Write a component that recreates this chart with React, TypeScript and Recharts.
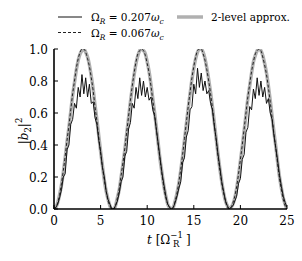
import React from 'react';
import { LineChart, Line, XAxis, YAxis } from 'recharts';

const FONT = "'DejaVu Serif', 'Liberation Serif', serif";

// time grid (units of 1/Ω_R)
const timeValues = [
  0, 0.2, 0.4, 0.6, 0.8, 1.0, 1.2, 1.4, 1.6, 1.8,
  2.0, 2.2, 2.4, 2.6, 2.8, 3.0, 3.2, 3.4, 3.6, 3.8,
  4.0, 4.2, 4.4, 4.6, 4.8, 5.0, 5.2, 5.4, 5.6, 5.8,
  6.0, 6.2, 6.4, 6.6, 6.8, 7.0, 7.2, 7.4, 7.6, 7.8,
  8.0, 8.2, 8.4, 8.6, 8.8, 9.0, 9.2, 9.4, 9.6, 9.8,
  10.0, 10.2, 10.4, 10.6, 10.8, 11.0, 11.2, 11.4, 11.6, 11.8,
  12.0, 12.2, 12.4, 12.6, 12.8, 13.0, 13.2, 13.4, 13.6, 13.8,
  14.0, 14.2, 14.4, 14.6, 14.8, 15.0, 15.2, 15.4, 15.6, 15.8,
  16.0, 16.2, 16.4, 16.6, 16.8, 17.0, 17.2, 17.4, 17.6, 17.8,
  18.0, 18.2, 18.4, 18.6, 18.8, 19.0, 19.2, 19.4, 19.6, 19.8,
  20.0, 20.2, 20.4, 20.6, 20.8, 21.0, 21.2, 21.4, 21.6, 21.8,
  22.0, 22.2, 22.4, 22.6, 22.8, 23.0, 23.2, 23.4, 23.6, 23.8,
  24.0, 24.2, 24.4, 24.6, 24.8, 25.0,
];

// Ω_R = 0.207 ω_c (solid, jagged)
const strongCoupling = [
  0, 0.01, 0.03, 0.07, 0.12, 0.20, 0.22, 0.37, 0.40, 0.53,
  0.56, 0.66, 0.63, 0.76, 0.70, 0.84, 0.72, 0.82, 0.70, 0.78,
  0.66, 0.67, 0.57, 0.53, 0.43, 0.36, 0.26, 0.20, 0.11, 0.06,
  0.03, 0.00, 0.00, 0.02, 0.05, 0.10, 0.17, 0.20, 0.33, 0.36,
  0.50, 0.54, 0.66, 0.63, 0.76, 0.69, 0.82, 0.71, 0.80, 0.70,
  0.76, 0.68, 0.70, 0.62, 0.58, 0.49, 0.40, 0.31, 0.22, 0.15,
  0.08, 0.03, 0.01, 0.00, 0.01, 0.04, 0.08, 0.13, 0.17, 0.29,
  0.32, 0.45, 0.49, 0.62, 0.64, 0.78, 0.72, 0.88, 0.76, 0.85,
  0.74, 0.80, 0.72, 0.74, 0.66, 0.62, 0.52, 0.44, 0.34, 0.26,
  0.17, 0.11, 0.05, 0.02, 0.00, 0.01, 0.02, 0.05, 0.08, 0.16,
  0.19, 0.31, 0.34, 0.48, 0.51, 0.64, 0.62, 0.75, 0.69, 0.82,
  0.71, 0.80, 0.70, 0.76, 0.66, 0.69, 0.60, 0.56, 0.46, 0.38,
  0.30, 0.21, 0.14, 0.08, 0.04, 0.01,
];

// Ω_R = 0.067 ω_c (dashed)
const weakCoupling = [
  0, 0.01, 0.04, 0.09, 0.16, 0.24, 0.33, 0.43, 0.52, 0.62,
  0.72, 0.80, 0.88, 0.94, 0.98, 1.00, 1.00, 0.98, 0.94, 0.89,
  0.82, 0.74, 0.64, 0.55, 0.45, 0.35, 0.26, 0.18, 0.11, 0.05,
  0.02, 0.00, 0.00, 0.02, 0.07, 0.13, 0.21, 0.29, 0.38, 0.48,
  0.58, 0.68, 0.77, 0.85, 0.92, 0.97, 0.99, 1.00, 0.99, 0.96,
  0.91, 0.85, 0.77, 0.68, 0.59, 0.49, 0.39, 0.30, 0.21, 0.13,
  0.07, 0.03, 0.01, 0.00, 0.01, 0.05, 0.10, 0.17, 0.25, 0.34,
  0.44, 0.54, 0.64, 0.73, 0.82, 0.89, 0.95, 0.99, 1.00, 1.00,
  0.97, 0.93, 0.87, 0.80, 0.72, 0.63, 0.53, 0.43, 0.33, 0.24,
  0.16, 0.10, 0.05, 0.01, 0.00, 0.01, 0.04, 0.08, 0.14, 0.22,
  0.31, 0.40, 0.50, 0.60, 0.70, 0.78, 0.86, 0.92, 0.97, 0.99,
  1.00, 0.99, 0.95, 0.90, 0.84, 0.76, 0.67, 0.57, 0.47, 0.38,
  0.28, 0.19, 0.12, 0.06, 0.02, 0.00,
];

// 2-level approximation (thick gray)
const twoLevel = [
  0, 0.01, 0.04, 0.09, 0.15, 0.23, 0.32, 0.42, 0.51, 0.61,
  0.71, 0.79, 0.87, 0.93, 0.97, 0.99, 1.00, 0.98, 0.95, 0.90,
  0.83, 0.75, 0.65, 0.56, 0.46, 0.36, 0.27, 0.18, 0.11, 0.06,
  0.02, 0.00, 0.00, 0.02, 0.07, 0.12, 0.20, 0.28, 0.37, 0.47,
  0.57, 0.67, 0.76, 0.84, 0.91, 0.96, 0.99, 1.00, 0.99, 0.97,
  0.92, 0.86, 0.78, 0.69, 0.60, 0.50, 0.40, 0.30, 0.22, 0.14,
  0.08, 0.03, 0.01, 0.00, 0.01, 0.05, 0.10, 0.16, 0.24, 0.33,
  0.43, 0.53, 0.63, 0.72, 0.81, 0.88, 0.94, 0.98, 1.00, 1.00,
  0.98, 0.94, 0.88, 0.81, 0.73, 0.64, 0.54, 0.44, 0.34, 0.25,
  0.17, 0.10, 0.05, 0.02, 0.00, 0.01, 0.03, 0.07, 0.13, 0.21,
  0.30, 0.39, 0.49, 0.59, 0.69, 0.77, 0.85, 0.92, 0.96, 0.99,
  1.00, 0.99, 0.96, 0.91, 0.85, 0.77, 0.68, 0.58, 0.48, 0.39,
  0.29, 0.20, 0.13, 0.07, 0.03, 0.00,
];

const xTicks = [0, 5, 10, 15, 20, 25];
const yTicks = [0, 0.2, 0.4, 0.6, 0.8, 1.0];

const data = timeValues.map((t, i) => ({
  t,
  strong: strongCoupling[i],
  weak: weakCoupling[i],
  two: twoLevel[i],
}));

const TICK_LEN = 4;
const txt = { fontFamily: FONT, fill: '#000' } as const;

const BottomTick = (props: any) => {
  const { x, y, payload } = props;
  return (
    <g>
      <line x1={x} x2={x} y1={y} y2={y - TICK_LEN} stroke="#000" strokeWidth={1} />
      <text x={x} y={y + 16} textAnchor="middle" fontSize={12} style={txt}>
        {String(payload.value)}
      </text>
    </g>
  );
};

const TopTick = (props: any) => {
  const { x, y } = props;
  return <line x1={x} x2={x} y1={y} y2={y + TICK_LEN} stroke="#000" strokeWidth={1} />;
};

const LeftTick = (props: any) => {
  const { x, y, payload } = props;
  return (
    <g>
      <line x1={x} x2={x + TICK_LEN} y1={y} y2={y} stroke="#000" strokeWidth={1} />
      <text x={x - 6} y={y + 4.5} textAnchor="end" fontSize={12} style={txt}>
        {Number(payload.value).toFixed(1)}
      </text>
    </g>
  );
};

const RightTick = (props: any) => {
  const { x, y } = props;
  return <line x1={x} x2={x - TICK_LEN} y1={y} y2={y} stroke="#000" strokeWidth={1} />;
};

const axisLine = { stroke: '#000', strokeWidth: 1.6 };

export default function App() {
  return (
    <div style={{ position: 'absolute', left: 0, top: 0, width: 302, height: 261, background: '#fff' }}>
      <LineChart
        width={302}
        height={261}
        data={data}
        margin={{ top: 49, right: 15, bottom: 22, left: 0 }}
      >
        <XAxis
          xAxisId="bottom"
          dataKey="t"
          type="number"
          domain={[0, 25]}
          ticks={xTicks}
          interval={0}
          allowDataOverflow
          height={30}
          tickSize={0}
          tickMargin={0}
          axisLine={axisLine}
          tickLine={false}
          tick={<BottomTick />}
        />
        <XAxis
          xAxisId="top"
          orientation="top"
          dataKey="t"
          type="number"
          domain={[0, 25]}
          ticks={xTicks}
          interval={0}
          allowDataOverflow
          height={0}
          tickSize={0}
          tickMargin={0}
          axisLine={axisLine}
          tickLine={false}
          tick={<TopTick />}
        />
        <YAxis
          yAxisId="left"
          type="number"
          domain={[0, 1]}
          ticks={yTicks}
          interval={0}
          allowDataOverflow
          width={54}
          tickSize={0}
          tickMargin={0}
          axisLine={axisLine}
          tickLine={false}
          tick={<LeftTick />}
        />
        <YAxis
          yAxisId="right"
          orientation="right"
          type="number"
          domain={[0, 1]}
          ticks={yTicks}
          interval={0}
          allowDataOverflow
          width={0}
          tickSize={0}
          tickMargin={0}
          axisLine={axisLine}
          tickLine={false}
          tick={<RightTick />}
        />
        <Line
          xAxisId="bottom"
          yAxisId="left"
          dataKey="two"
          type="monotone"
          stroke="#b0b0b0"
          strokeWidth={3.5}
          dot={false}
          activeDot={false}
          isAnimationActive={false}
        />
        <Line
          xAxisId="bottom"
          yAxisId="left"
          dataKey="weak"
          type="monotone"
          stroke="#222"
          strokeWidth={1}
          strokeDasharray="3 2"
          dot={false}
          activeDot={false}
          isAnimationActive={false}
        />
        <Line
          xAxisId="bottom"
          yAxisId="left"
          dataKey="strong"
          type="linear"
          stroke="#111"
          strokeWidth={1}
          dot={false}
          activeDot={false}
          isAnimationActive={false}
        />
      </LineChart>
      <svg
        width={302}
        height={261}
        style={{ position: 'absolute', left: 0, top: 0, pointerEvents: 'none' }}
      >
        {/* legend */}
        <line x1={58} x2={82} y1={17} y2={17} stroke="#111" strokeWidth={1} />
        <text x={91} y={21} fontSize={10.5} style={txt}>
          Ω<tspan fontStyle="italic" fontSize={7.5} dy={3}>R</tspan>
          <tspan dy={-3}> = 0.207</tspan>
          <tspan fontStyle="italic">ω</tspan>
          <tspan fontStyle="italic" fontSize={7.5} dy={3}>c</tspan>
        </text>
        <line x1={177} x2={203} y1={17} y2={17} stroke="#b0b0b0" strokeWidth={3.5} />
        <text x={211} y={21} fontSize={10.5} style={txt}>2-level approx.</text>
        <line x1={58} x2={82} y1={32.5} y2={32.5} stroke="#222" strokeWidth={1} strokeDasharray="3 2" />
        <text x={91} y={36.5} fontSize={10.5} style={txt}>
          Ω<tspan fontStyle="italic" fontSize={7.5} dy={3}>R</tspan>
          <tspan dy={-3}> = 0.067</tspan>
          <tspan fontStyle="italic">ω</tspan>
          <tspan fontStyle="italic" fontSize={7.5} dy={3}>c</tspan>
        </text>
        {/* y label */}
        <text
          x={28}
          y={131}
          transform="rotate(-90, 28, 131)"
          textAnchor="middle"
          fontSize={12}
          style={txt}
        >
          |<tspan fontStyle="italic">b</tspan>
          <tspan fontSize={8.5} dy={3}>2</tspan>
          <tspan dy={-3}>|</tspan>
          <tspan fontSize={8.5} dy={-6}>2</tspan>
        </text>
        {/* x label */}
        <text x={147} y={244} fontSize={12} style={txt}>
          <tspan fontStyle="italic">t</tspan>
          <tspan> [Ω</tspan>
          <tspan fontSize={8.5} dy={-6}>−1</tspan>
        </text>
        <text x={173} y={247} fontSize={8.5} style={txt}>R</text>
        <text x={186} y={244} fontSize={12} style={txt}>]</text>
      </svg>
    </div>
  );
}
